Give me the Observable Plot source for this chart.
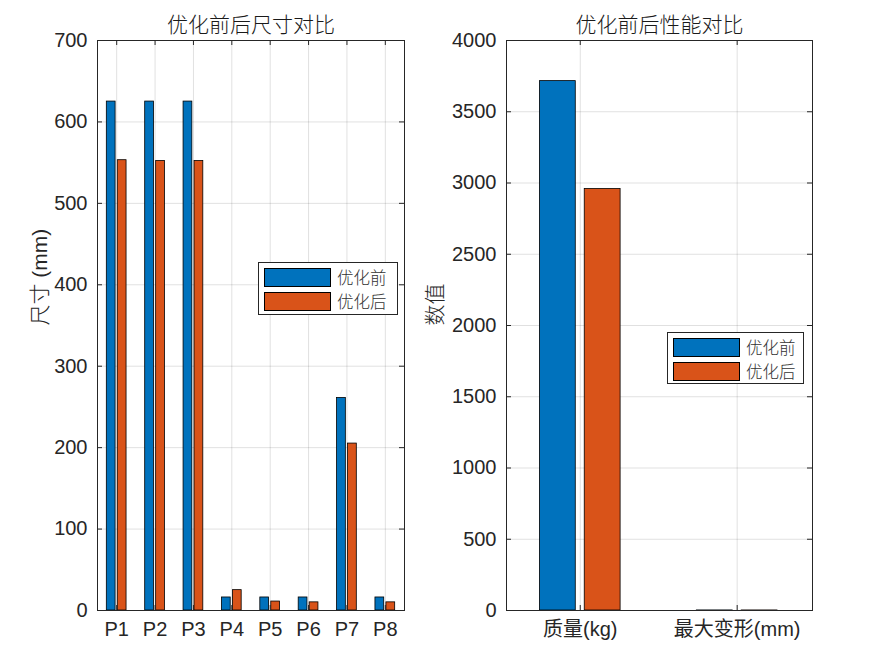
<!DOCTYPE html>
<html><head><meta charset="utf-8">
<script src="https://cdn.jsdelivr.net/npm/d3@7"></script>
<script src="https://cdn.jsdelivr.net/npm/@observablehq/plot@0.6"></script>
<style>
body{margin:0;background:#fff;}
#wrap{position:relative;width:874px;height:664px;overflow:hidden;background:#fff;}
.panel{position:absolute;top:0;}
.legend{position:absolute;background:#fff;border:1px solid #262626;box-sizing:border-box;font-family:"Noto Sans CJK SC",sans-serif;font-weight:300;font-size:16.5px;color:#333;}
.legend .row{position:absolute;left:5px;display:flex;align-items:center;height:19px;}
.legend .sw{width:67px;height:19px;border:1px solid #000;box-sizing:border-box;}
.legend .lab{margin-left:6px;line-height:19px;}
</style></head>
<body><div id="wrap"></div>
<script>
// ---- data ----
const sizeCats = ["P1", "P2", "P3", "P4", "P5", "P6", "P7", "P8"];
const sizeBefore = [625, 625, 625, 16, 16, 16, 261, 16];
const sizeAfter = [553, 552, 552, 25, 11, 10, 205, 10];
const sizeTicks = [0, 100, 200, 300, 400, 500, 600, 700];

const perfCats = ["质量(kg)", "最大变形(mm)"];
const perfBefore = [3715, 0.52];
const perfAfter = [2958, 0.41];
const perfTicks = [0, 500, 1000, 1500, 2000, 2500, 3000, 3500, 4000];

const seriesNames = ["优化前", "优化后"];
const seriesColors = ["#0072BD", "#D95319"];

const titles = ["优化前后尺寸对比", "优化前后性能对比"];
const yLabels = ["尺寸 (mm)", "数值"];

// ---- drawing ----
const LATIN = '"Liberation Sans", Arial, "Noto Sans CJK SC", sans-serif';
const CJK = '"Noto Sans CJK SC", sans-serif';
const wrap = document.getElementById("wrap");

function panel({cats, series, yDomain, yTicks, xDomain, title, ylabel, left, width, marginLeft, marginRight, ylabelDx, legend}) {
  const n = series.length;
  const groupW = Math.min(0.8, n / (n + 1.5));
  const barW = groupW / n;
  const rows = [];
  cats.forEach((c, i) => series.forEach((vals, s) => rows.push({i: i + 1, s, v: vals[i]})));
  const xTicks = cats.map((c, i) => i + 1);
  const innerH = 664 - 40 - 54;
  const innerW = width - marginLeft - marginRight;
  const off = s => (s - (n - 1) / 2) * barW;
  const chart = Plot.plot({
    width, height: 664, marginLeft, marginRight, marginTop: 40, marginBottom: 54,
    style: {fontFamily: LATIN, fontSize: "20px", color: "#262626", background: "transparent", overflow: "visible"},
    x: {domain: xDomain},
    y: {domain: yDomain},
    color: {type: "identity"},
    marks: [
      Plot.gridX(xTicks, {stroke: "#000", strokeOpacity: 0.12}),
      Plot.gridY(yTicks, {stroke: "#000", strokeOpacity: 0.12}),
      Plot.rect(rows, {
        x1: d => d.i + off(d.s) - 0.4 * barW,
        x2: d => d.i + off(d.s) + 0.4 * barW,
        y1: 0, y2: "v",
        fill: d => seriesColors[d.s], stroke: "#000", strokeWidth: 0.8
      }),
      Plot.frame({stroke: "#262626", strokeWidth: 1}),
      Plot.tickX(xTicks, {x: d => d, insetTop: innerH - 5, stroke: "#262626"}),
      Plot.tickX(xTicks, {x: d => d, insetBottom: innerH - 5, stroke: "#262626"}),
      Plot.tickY(yTicks, {y: d => d, insetRight: innerW - 5, stroke: "#262626"}),
      Plot.tickY(yTicks, {y: d => d, insetLeft: innerW - 5, stroke: "#262626"}),
      Plot.axisX(xTicks, {tickSize: 0, tickPadding: 11, tickFormat: d => cats[d - 1], fontSize: 20, label: null}),
      Plot.axisY(yTicks, {tickSize: 0, tickPadding: 10, tickFormat: d => String(d), fontSize: 20, label: null}),
      Plot.text([title], {text: d => d, frameAnchor: "top", dy: -9, lineAnchor: "bottom", fontSize: 21, fontFamily: CJK, fontWeight: 300, fill: "#1a1a1a"}),
      Plot.text([ylabel], {text: d => d, frameAnchor: "left", dx: ylabelDx, rotate: -90, fontSize: 21, fontWeight: 300, fill: "#262626"})
    ]
  });
  const div = document.createElement("div");
  div.className = "panel";
  div.style.left = left + "px";
  div.appendChild(chart);
  wrap.appendChild(div);

  const lg = document.createElement("div");
  lg.className = "legend";
  Object.assign(lg.style, {left: legend.x + "px", top: legend.y + "px", width: legend.w + "px", height: legend.h + "px"});
  seriesNames.forEach((name, s) => {
    const row = document.createElement("div");
    row.className = "row";
    row.style.top = (5 + s * 24) + "px";
    const sw = document.createElement("div");
    sw.className = "sw";
    sw.style.background = seriesColors[s];
    const lab = document.createElement("span");
    lab.className = "lab";
    lab.textContent = name;
    row.appendChild(sw); row.appendChild(lab);
    lg.appendChild(row);
  });
  wrap.appendChild(lg);
}

panel({
  cats: sizeCats, series: [sizeBefore, sizeAfter], yDomain: [0, 700], yTicks: sizeTicks,
  xDomain: [0.5, 8.5], title: titles[0], ylabel: yLabels[0],
  left: 0, width: 420, marginLeft: 97, marginRight: 16, ylabelDx: -57,
  legend: {x: 258, y: 262, w: 140, h: 53}
});
panel({
  cats: perfCats, series: [perfBefore, perfAfter], yDomain: [0, 4000], yTicks: perfTicks,
  xDomain: [0.53, 2.48], title: titles[1], ylabel: yLabels[1],
  left: 420, width: 454, marginLeft: 86, marginRight: 62, ylabelDx: -71,
  legend: {x: 667, y: 332, w: 137, h: 52}
});
</script>
</body></html>
